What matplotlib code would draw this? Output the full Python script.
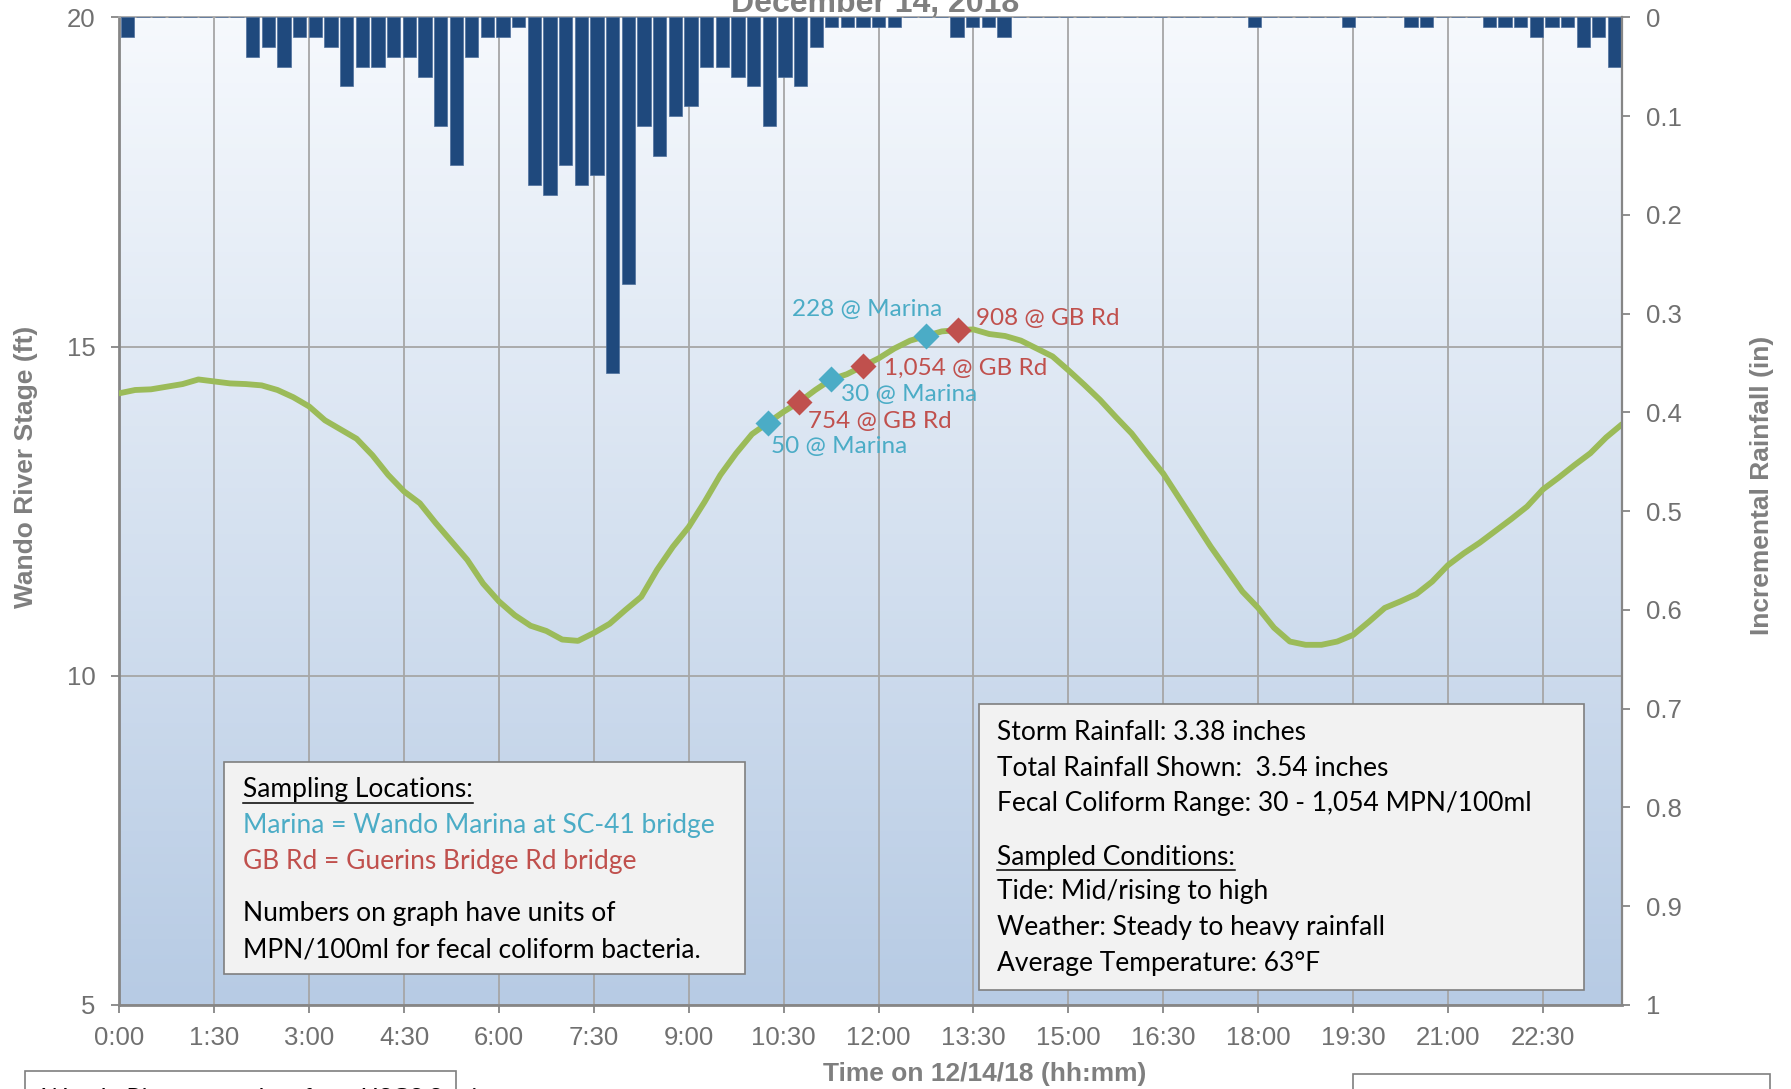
import numpy as np
import matplotlib
matplotlib.use('Agg')
import matplotlib.pyplot as plt
from matplotlib.patches import Rectangle
from matplotlib.lines import Line2D
from matplotlib.colors import LinearSegmentedColormap

W, H, DPI = 1791, 1089, 100

# Wando River stage (ft), one reading every 15 min, 0:00 .. 23:45
stage_ft = [14.29, 14.34, 14.35, 14.39, 14.43, 14.50, 14.47, 14.44, 14.43, 14.41,
            14.34, 14.23, 14.09, 13.88, 13.74, 13.60, 13.35, 13.05, 12.80, 12.62,
            12.32, 12.04, 11.76, 11.40, 11.13, 10.92, 10.76, 10.68, 10.55, 10.53,
            10.65, 10.79, 11.00, 11.20, 11.61, 11.96, 12.26, 12.64, 13.05, 13.38,
            13.67, 13.84, 14.01, 14.16, 14.34, 14.50, 14.58, 14.70, 14.82, 14.97,
            15.09, 15.16, 15.23, 15.25, 15.26, 15.19, 15.16, 15.09, 14.97, 14.85,
            14.64, 14.42, 14.19, 13.93, 13.68, 13.37, 13.07, 12.70, 12.33, 11.96,
            11.62, 11.28, 11.03, 10.73, 10.52, 10.47, 10.47, 10.52, 10.62, 10.82,
            11.03, 11.13, 11.24, 11.43, 11.68, 11.86, 12.02, 12.20, 12.38, 12.57,
            12.83, 13.01, 13.20, 13.38, 13.62, 13.82]

# incremental rainfall (in) per 15-min interval
rain_in = [0.02, 0, 0, 0, 0, 0, 0, 0, 0.04, 0.03,
           0.05, 0.02, 0.02, 0.03, 0.07, 0.05, 0.05, 0.04, 0.04, 0.06,
           0.11, 0.15, 0.04, 0.02, 0.02, 0.01, 0.17, 0.18, 0.15, 0.17,
           0.16, 0.36, 0.27, 0.11, 0.14, 0.10, 0.09, 0.05, 0.05, 0.06,
           0.07, 0.11, 0.06, 0.07, 0.03, 0.01, 0.01, 0.01, 0.01, 0.01,
           0, 0, 0, 0.02, 0.01, 0.01, 0.02, 0, 0, 0,
           0, 0, 0, 0, 0, 0, 0, 0, 0, 0,
           0, 0, 0.01, 0, 0, 0, 0, 0, 0.01, 0,
           0, 0, 0.01, 0.01, 0, 0, 0, 0.01, 0.01, 0.01,
           0.02, 0.01, 0.01, 0.03, 0.02, 0.05]

tick_labels = ['0:00', '1:30', '3:00', '4:30', '6:00', '7:30', '9:00', '10:30',
               '12:00', '13:30', '15:00', '16:30', '18:00', '19:30', '21:00', '22:30']
rain_ticks = ['0', '0.1', '0.2', '0.3', '0.4', '0.5', '0.6', '0.7', '0.8', '0.9', '1']

# fecal coliform samples
sample_site = ['Marina', 'GB Rd', 'Marina', 'GB Rd', 'Marina', 'GB Rd']
sample_time = ['10:15', '10:45', '11:15', '11:45', '12:45', '13:15']
sample_mpn = ['50', '754', '30', '1,054', '228', '908']

site_color = {'Marina': '#4bacc6', 'GB Rd': '#c0504d'}
# label offsets (points) / alignment per sample
label_pos = [(2, -17, 'left'), (6, -14.5, 'left'), (7, -11, 'left'),
             (15, -1.5, 'left'), (12, 19, 'right'), (13, 8.5, 'left')]

GRAY = '#7f7f7f'
TICK_GRAY = '#707070'
BOX_FONT = ['Lato', 'DejaVu Sans']
AX_FONT = ['Liberation Sans', 'DejaVu Sans']
BOX_SIZE = 19

hours = np.arange(len(stage_ft)) * 0.25


def to_hours(s):
    h, m = s.split(':')
    return int(h) + int(m) / 60


fig = plt.figure(figsize=(W / DPI, H / DPI), dpi=DPI)
fig.patch.set_facecolor('white')

rect = [119.3 / W, 1 - 1005 / H, (1622 - 119.3) / W, (1005 - 17.3) / H]

# ---- stage axes (background, grid, line)
ax = fig.add_axes(rect, zorder=1)
bg = LinearSegmentedColormap.from_list('bg', ['#f6f9fd', '#b7cbe4'])
ax.imshow(np.linspace(0, 1, 256)[:, None], cmap=bg, extent=(0, 1, 0, 1),
          transform=ax.transAxes, aspect='auto', zorder=0)
ax.plot(hours, stage_ft, color='#9bbb59', lw=4.2, solid_joinstyle='round',
        solid_capstyle='round', zorder=3)

for site, t, mpn, (dx, dy, ha) in zip(sample_site, sample_time, sample_mpn, label_pos):
    th = to_hours(t)
    y = np.interp(th, hours, stage_ft)
    ax.plot(th, y, marker='D', ms=13.5, color=site_color[site], mec='none', zorder=4)
    ax.annotate(f'{mpn} @ {site}', (th, y), xytext=(dx, dy), textcoords='offset points',
                ha=ha, va='center', color=site_color[site], fontsize=17.5,
                family=BOX_FONT, zorder=5)

ax.set_xlim(0, hours[-1])
ax.set_ylim(5, 20)
ax.set_xticks(np.arange(len(tick_labels)) * 1.5)
ax.set_xticklabels(tick_labels)
ax.set_yticks([5, 10, 15, 20])
ax.set_axisbelow(True)
ax.grid(True, color='#a6a6a6', lw=1.3)
ax.tick_params(axis='both', colors='#868686', labelcolor=TICK_GRAY, labelsize=18.5,
               width=1.3, length=6, direction='out')
ax.tick_params(axis='y', pad=11)
ax.tick_params(axis='x', pad=9)
for lab in ax.get_xticklabels() + ax.get_yticklabels():
    lab.set_family(AX_FONT)
for side in ['left', 'bottom']:
    ax.spines[side].set_color('#868686')
    ax.spines[side].set_linewidth(2)
ax.spines['top'].set_color('#a6a6a6')
ax.spines['top'].set_linewidth(1.3)
ax.spines['right'].set_visible(False)

# ---- rainfall axes (bars hanging from the top)
axb = fig.add_axes(rect, zorder=2)
axb.patch.set_visible(False)
axb.bar(np.arange(len(rain_in)) + 0.52, rain_in, width=0.85, color='#1f497d',
        edgecolor='#4d6f9c', lw=0.5)
axb.set_xlim(0, len(rain_in))
axb.set_ylim(1, 0)
axb.xaxis.set_visible(False)
axb.yaxis.tick_right()
axb.set_yticks(np.linspace(0, 1, len(rain_ticks)))
axb.set_yticklabels(rain_ticks)
axb.tick_params(axis='y', colors='#868686', labelcolor=TICK_GRAY, labelsize=18.5,
                width=1.3, length=6, pad=11)
for lab in axb.get_yticklabels():
    lab.set_family(AX_FONT)
for side in ['left', 'top', 'bottom']:
    axb.spines[side].set_visible(False)
axb.spines['right'].set_color('#868686')
axb.spines['right'].set_linewidth(1.6)

# ---- titles
fig.text(875 / W, 1 - 12 / H, 'December 14, 2018', ha='center', va='baseline',
         fontsize=23, fontweight='bold', color=GRAY, family=AX_FONT)
fig.text(26 / W, 1 - 467 / H, 'Wando River Stage (ft)', rotation=90, ha='center',
         va='center', fontsize=19, fontweight='bold', color=GRAY, family=AX_FONT)
fig.text(1762 / W, 1 - 485 / H, 'Incremental Rainfall (in)', rotation=90, ha='center',
         va='center', fontsize=19, fontweight='bold', color=GRAY, family=AX_FONT)
fig.text(985 / W, 1 - 1074 / H, 'Time on 12/14/18 (hh:mm)', ha='center', va='center',
         fontsize=19, fontweight='bold', color=GRAY, family=AX_FONT)


def box(x0, y0, x1, y1, fc='#f2f2f2'):
    fig.patches.append(Rectangle((x0 / W, 1 - y1 / H), (x1 - x0) / W, (y1 - y0) / H,
                                 transform=fig.transFigure, fc=fc, ec='#7f7f7f',
                                 lw=1.2, zorder=2.5))


def ftext(x, y, s, color='black', underline=False):
    t = fig.text(x / W, 1 - y / H, s, ha='left', va='center', fontsize=BOX_SIZE,
                 color=color, family=BOX_FONT, zorder=3)
    if underline:
        under.append((t, y))
    return t


under = []

# sampling locations box
box(224, 762, 745, 974)
ftext(243, 790, 'Sampling Locations:', underline=True)
ftext(243, 826, 'Marina = Wando Marina at SC-41 bridge', color=site_color['Marina'])
ftext(243, 862, 'GB Rd = Guerins Bridge Rd bridge', color=site_color['GB Rd'])
ftext(243, 914, 'Numbers on graph have units of')
ftext(243, 950, 'MPN/100ml for fecal coliform bacteria.')

# conditions box
box(979, 704, 1584, 990)
ftext(997, 732, 'Storm Rainfall: 3.38 inches')
ftext(997, 768.5, 'Total Rainfall Shown:  3.54 inches')
ftext(997, 804, 'Fecal Coliform Range: 30 - 1,054 MPN/100ml')
ftext(997, 857, 'Sampled Conditions:', underline=True)
ftext(997, 892, 'Tide: Mid/rising to high')
ftext(997, 927.5, 'Weather: Steady to heavy rainfall')
ftext(997, 963, 'Average Temperature: 63°F')

# boxes cut off at the bottom edge
box(25, 1071, 456, 1110, fc='white')
box(1353, 1074, 1770, 1110, fc='white')
fig.text(42 / W, 1 - 1088 / H, 'Wando River stage data from USGS Station', ha='left',
         va='top', fontsize=17.5, color='black', family=BOX_FONT, zorder=3)

fig.canvas.draw()
renderer = fig.canvas.get_renderer()
for t, y in under:
    bb = t.get_window_extent(renderer)
    yy = (H - y) - 13
    fig.add_artist(Line2D([bb.x0, bb.x1], [yy, yy], transform=None, color='black',
                          lw=1.1, zorder=3))

fig.savefig('out.png', dpi=DPI, facecolor='white')
